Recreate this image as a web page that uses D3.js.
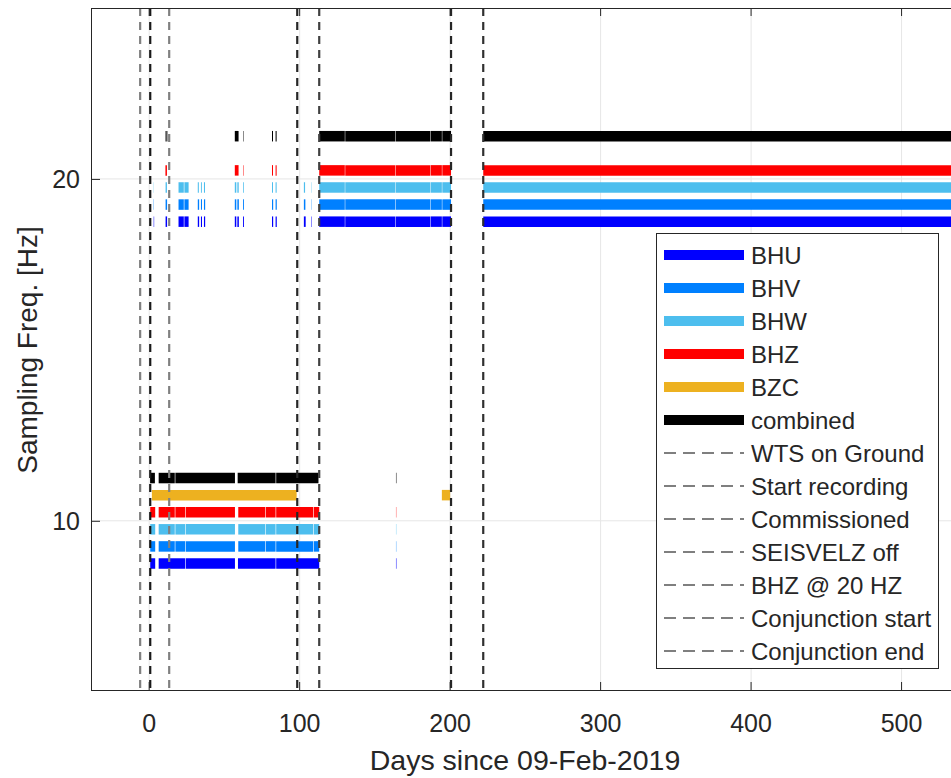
<!DOCTYPE html>
<html>
<head>
<meta charset="utf-8">
<script src="https://cdn.jsdelivr.net/npm/d3@7"></script>
<style>
  html, body { margin: 0; padding: 0; background: #fff; }
  svg { display: block; font-family: "Liberation Sans", Arial, Helvetica, sans-serif; }
</style>
</head>
<body>
<svg id="chart" width="951" height="778"></svg>
<script>
// CHANNELS
const channelNames = ["BHU", "BHV", "BHW", "BHZ", "BZC", "combined"];
const channelColors = ["#0000ff", "#0080ff", "#4dbeee", "#ff0000", "#edb120", "#000000"];
const channelOffsets = [-1.25, -0.75, -0.25, 0.25, 0.75, 1.25]; // Hz offset from nominal rate

// SEGMENTS (days) AT 10 HZ
const bhu10 = [[0.7, 4.0], [6.3, 24.0], [24.4, 57.0], [59.0, 84.0], [84.4, 113.0], [164.0, 164.3]];
const bhv10 = [[0.7, 4.0], [6.3, 17.0], [17.4, 24.0], [24.4, 57.0], [59.2, 77.0], [77.4, 84.0], [84.4, 109.0], [109.4, 113.0], [164.0, 164.2]];
const bhw10 = [[0.7, 4.0], [6.3, 17.0], [17.4, 24.0], [24.4, 57.0], [59.2, 77.0], [77.4, 84.0], [84.4, 109.0], [109.4, 113.0], [164.0, 164.2]];
const bhz10 = [[0.7, 4.0], [6.3, 17.0], [17.4, 24.0], [24.4, 57.0], [59.2, 77.0], [77.4, 84.0], [84.4, 109.0], [109.4, 113.0], [164.0, 164.2]];
const bzc10 = [[1.8, 98.0], [194.5, 200.0]];
const combined10 = [[0.6, 3.8], [6.3, 17.0], [17.4, 57.0], [58.8, 84.0], [84.4, 112.5], [164.0, 164.3]];

// SEGMENTS (days) AT 20 HZ
const bhu20 = [[3.0, 3.3], [10.9, 11.9], [19.5, 23.0], [23.4, 26.2], [32.3, 33.2], [34.4, 35.1], [36.4, 37.2],
  [56.9, 57.9], [58.6, 59.6], [62.4, 63.0], [81.6, 82.4], [84.0, 84.8], [102.8, 104.0], [107.6, 107.9],
  [113.0, 130.0], [130.3, 163.5], [163.8, 186.7], [187.0, 194.5], [194.8, 200.6], [222.0, 540.0]];
const bhv20 = [[3.0, 3.2], [10.9, 11.9], [19.5, 23.0], [23.4, 26.2], [32.3, 33.2], [34.4, 35.1], [36.4, 37.2],
  [56.9, 57.9], [58.6, 59.6], [62.4, 63.0], [81.6, 82.4], [84.0, 84.8], [102.8, 103.8], [107.6, 107.8],
  [113.0, 130.0], [130.3, 163.5], [163.8, 186.7], [187.0, 194.5], [194.8, 200.6], [222.0, 540.0]];
const bhw20 = [[3.0, 3.15], [10.9, 11.8], [19.5, 23.0], [23.4, 26.2], [32.3, 33.0], [34.4, 35.0], [36.4, 37.1],
  [56.9, 57.9], [58.6, 59.5], [62.4, 62.9], [81.6, 82.3], [84.0, 84.7], [102.8, 103.6], [107.6, 107.8],
  [113.0, 130.0], [130.3, 163.5], [163.8, 186.7], [187.0, 194.5], [194.8, 200.6], [222.0, 540.0]];
const bhz20 = [[10.8, 11.8], [56.9, 59.4], [62.5, 62.8], [81.6, 82.3], [84.0, 84.7],
  [113.0, 130.0], [130.3, 163.5], [163.8, 186.7], [187.0, 194.5], [194.8, 200.6], [222.0, 540.0]];
const bzc20 = [];
const combined20 = [[10.8, 11.1], [11.4, 12.1], [56.9, 59.4], [62.5, 62.8], [81.6, 82.3], [84.0, 84.7],
  [113.0, 130.0], [130.3, 163.5], [163.8, 186.7], [187.0, 194.5], [194.8, 200.6], [222.0, 540.0]];

const rates = [10, 20];

// EVENTS
const eventNames = ["WTS on Ground", "Start recording", "Commissioned", "SEISVELZ off",
  "BHZ @ 20 HZ", "Conjunction start", "Conjunction end"];
const eventDays = [-6.0, 0.7, 13.3, 98.4, 113.0, 200.6, 222.0];
const eventColors = ["#808080", "#1a1a1a", "#808080", "#262626", "#404040", "#262626", "#303030"];

// AXES
const xTicks = [0, 100, 200, 300, 400, 500];
const yTicks = [10, 20];
const xLabel = "Days since 09-Feb-2019";
const yLabel = "Sampling Freq. [Hz]";

const segmentsByRate = {
  10: [bhu10, bhv10, bhw10, bhz10, bzc10, combined10],
  20: [bhu20, bhv20, bhw20, bhz20, bzc20, combined20]
};

// LAYOUT
const plot = { left: 92, right: 958, top: 8, bottom: 690 };
const textColor = "#262626";

const svg = d3.select("#chart");

const x = d3.scaleLinear().domain([-38, 537.5]).range([plot.left, plot.right]);
const y = d3.scaleLinear().domain([5.05, 25]).range([plot.bottom, plot.top]);

svg.append("defs").append("clipPath").attr("id", "plot-clip")
  .append("rect")
  .attr("x", plot.left).attr("y", plot.top)
  .attr("width", plot.right - plot.left).attr("height", plot.bottom - plot.top);

// GRID
const grid = svg.append("g").attr("class", "grid");
grid.selectAll("line.gx").data(xTicks).join("line")
  .attr("x1", d => x(d)).attr("x2", d => x(d))
  .attr("y1", plot.top).attr("y2", plot.bottom)
  .attr("stroke", "#e6e6e6").attr("stroke-width", 1);
grid.selectAll("line.gy").data(yTicks).join("line")
  .attr("y1", d => y(d)).attr("y2", d => y(d))
  .attr("x1", plot.left).attr("x2", plot.right)
  .attr("stroke", "#e6e6e6").attr("stroke-width", 1);

// DATA BARS
const bars = svg.append("g").attr("clip-path", "url(#plot-clip)");
const barRows = [];
rates.forEach(rate => {
  segmentsByRate[rate].forEach((segs, i) => {
    segs.forEach(s => barRows.push({ rate, i, start: s[0], end: s[1] }));
  });
});

bars.selectAll("line.seg").data(barRows).join("line")
  .attr("class", "seg")
  .attr("x1", d => x(d.start))
  .attr("x2", d => x(d.end))
  .attr("y1", d => y(d.rate + channelOffsets[d.i]))
  .attr("y2", d => y(d.rate + channelOffsets[d.i]))
  .attr("stroke", d => channelColors[d.i])
  .attr("stroke-width", 10.5)
  .attr("stroke-linecap", "butt");

// EVENT LINES
bars.selectAll("line.evt").data(eventDays).join("line")
  .attr("class", "evt")
  .attr("x1", d => x(d)).attr("x2", d => x(d))
  .attr("y1", plot.top).attr("y2", plot.bottom)
  .attr("stroke", (d, i) => eventColors[i])
  .attr("stroke-width", 2.2)
  .attr("stroke-dasharray", "8,6");

// AXES
const axes = svg.append("g");
axes.append("line")
  .attr("x1", plot.left).attr("x2", plot.right)
  .attr("y1", plot.bottom + 0.5).attr("y2", plot.bottom + 0.5)
  .attr("stroke", textColor);
axes.append("line")
  .attr("x1", plot.left).attr("x2", plot.right)
  .attr("y1", plot.top + 0.5).attr("y2", plot.top + 0.5)
  .attr("stroke", textColor);
axes.append("line")
  .attr("x1", plot.left - 0.5).attr("x2", plot.left - 0.5)
  .attr("y1", plot.top).attr("y2", plot.bottom + 1)
  .attr("stroke", textColor);

// inward ticks
axes.selectAll("line.xt").data(xTicks).join("line")
  .attr("x1", d => x(d)).attr("x2", d => x(d))
  .attr("y1", plot.bottom).attr("y2", plot.bottom - 8)
  .attr("stroke", textColor);
axes.selectAll("line.xtt").data(xTicks).join("line")
  .attr("x1", d => x(d)).attr("x2", d => x(d))
  .attr("y1", plot.top).attr("y2", plot.top + 8)
  .attr("stroke", textColor);
axes.selectAll("line.yt").data(yTicks).join("line")
  .attr("x1", plot.left).attr("x2", plot.left + 8)
  .attr("y1", d => y(d) + 0.5).attr("y2", d => y(d) + 0.5)
  .attr("stroke", textColor);

axes.selectAll("text.xl").data(xTicks).join("text")
  .attr("x", d => x(d)).attr("y", 732)
  .attr("text-anchor", "middle")
  .attr("font-size", 25)
  .attr("fill", textColor)
  .text(d => d);
axes.selectAll("text.yl").data(yTicks).join("text")
  .attr("x", 80).attr("y", d => y(d) + 9)
  .attr("text-anchor", "end")
  .attr("font-size", 25)
  .attr("fill", textColor)
  .text(d => d);

svg.append("text")
  .attr("x", (plot.left + plot.right) / 2).attr("y", 770)
  .attr("text-anchor", "middle")
  .attr("font-size", 28.5)
  .attr("fill", textColor)
  .text(xLabel);
svg.append("text")
  .attr("transform", `translate(37, ${(plot.top + plot.bottom) / 2 + 1}) rotate(-90)`)
  .attr("text-anchor", "middle")
  .attr("font-size", 28)
  .attr("fill", textColor)
  .text(yLabel);

// LEGEND
const legendItems = [
  ...channelNames.map((name, i) => ({ name, color: channelColors[i], dashed: false })),
  ...eventNames.map(name => ({ name, color: "#000", dashed: true }))
];
const lg = { x: 656, y: 233, w: 282, h: 435, first: 255, step: 33 };
const legend = svg.append("g");
legend.append("rect")
  .attr("x", lg.x + 0.5).attr("y", lg.y + 0.5)
  .attr("width", lg.w).attr("height", lg.h)
  .attr("fill", "#fff").attr("stroke", textColor).attr("stroke-width", 1);

const rows = legend.selectAll("g.item").data(legendItems).join("g")
  .attr("transform", (d, i) => `translate(0, ${lg.first + i * lg.step})`);
rows.append("line")
  .attr("x1", 664).attr("x2", 744)
  .attr("y1", 0).attr("y2", 0)
  .attr("stroke", d => d.color)
  .attr("stroke-width", d => d.dashed ? 1.2 : 10)
  .attr("stroke-dasharray", d => d.dashed ? "12,7" : null);
rows.append("text")
  .attr("x", 751).attr("y", 8.5)
  .attr("font-size", 24)
  .attr("fill", textColor)
  .text(d => d.name);
</script>
</body>
</html>
